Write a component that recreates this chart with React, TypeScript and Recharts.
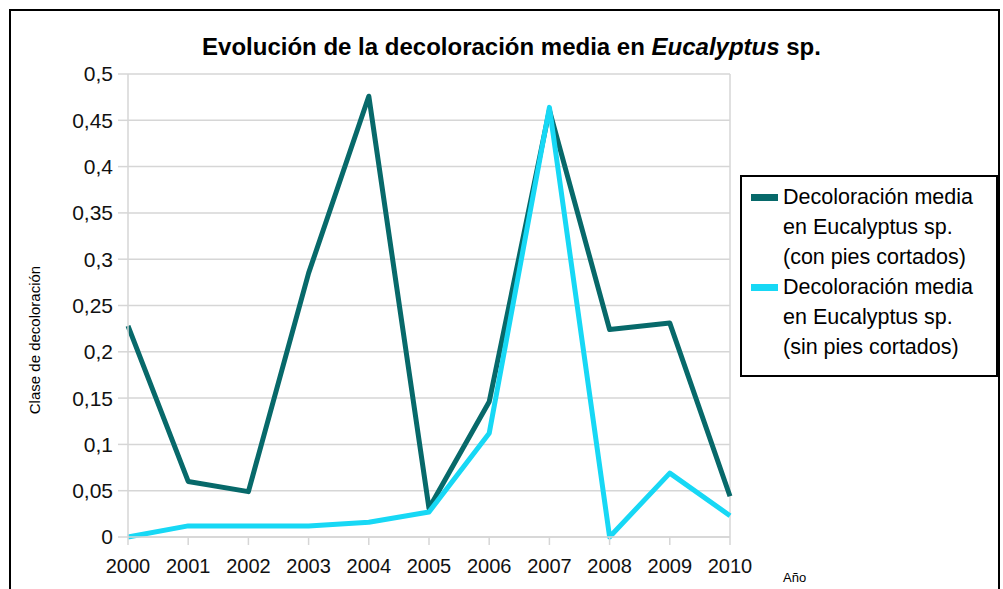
import React from 'react';
import { LineChart, Line, XAxis, YAxis, CartesianGrid, ReferenceLine, Legend } from 'recharts';

const years = ['2000', '2001', '2002', '2003', '2004', '2005', '2006', '2007', '2008', '2009', '2010'];
const conPies = [0.228, 0.06, 0.049, 0.285, 0.476, 0.031, 0.146, 0.461, 0.224, 0.231, 0.044];
const sinPies = [0.0, 0.012, 0.012, 0.012, 0.016, 0.027, 0.112, 0.464, 0.0, 0.069, 0.023];
const yTicks = [0, 0.05, 0.1, 0.15, 0.2, 0.25, 0.3, 0.35, 0.4, 0.45, 0.5];
const seriesNames = [
  ['Decoloración media', 'en Eucalyptus sp.', '(con pies cortados)'],
  ['Decoloración media', 'en Eucalyptus sp.', '(sin pies cortados)'],
];
const DARK = '#07696a';
const CYAN = '#17d8f5';
const FONT = 'Liberation Sans, Arial, sans-serif';

const data = years.map((y, i) => ({ year: y, con: conPies[i], sin: sinPies[i] }));

const LegendBox = () => (
  <div
    style={{
      border: '2px solid #000',
      background: '#fff',
      width: 258,
      height: 202,
      boxSizing: 'border-box',
      padding: '5px 0 0 8px',
      fontFamily: FONT,
      fontSize: 21.5,
      lineHeight: '30px',
      color: '#000',
    }}
  >
    {[DARK, CYAN].map((c, i) => (
      <div key={i} style={{ position: 'relative', paddingLeft: 33 }}>
        <div style={{ position: 'absolute', left: 1, top: 12, width: 27, height: 7, background: c }} />
        {seriesNames[i].map((t, j) => (
          <div key={j} style={{ whiteSpace: 'nowrap' }}>{t}</div>
        ))}
      </div>
    ))}
  </div>
);

export default function App() {
  return (
    <div style={{ position: 'absolute', left: 0, top: 0, width: 1003, height: 589, overflow: 'hidden', background: '#fff' }}>
      <div
        style={{
          position: 'absolute',
          left: 9,
          top: 9,
          width: 991,
          height: 640,
          border: '2px solid #000',
          boxSizing: 'border-box',
        }}
      />
      <div
        style={{
          position: 'absolute',
          left: 0,
          width: 1003,
          top: 33,
          textAlign: 'center',
          fontFamily: FONT,
          fontWeight: 'bold',
          fontSize: 24,
          color: '#000',
          paddingLeft: 20,
          boxSizing: 'border-box',
        }}
      >
        Evolución de la decoloración media en <i>Eucalyptus</i> sp.
      </div>
      <div
        style={{
          position: 'absolute',
          left: 34,
          top: 340,
          transform: 'translate(-50%, -50%) rotate(-90deg)',
          fontFamily: FONT,
          fontSize: 15,
          whiteSpace: 'nowrap',
          color: '#000',
        }}
      >
        Clase de decoloración
      </div>
      <div
        style={{
          position: 'absolute',
          left: 783,
          top: 570,
          fontFamily: FONT,
          fontSize: 13,
          color: '#000',
        }}
      >
        Año
      </div>
      <div style={{ position: 'absolute', left: 0, top: 0 }}>
        <LineChart
          width={1003}
          height={589}
          data={data}
          margin={{ top: 74, right: 273, bottom: 12, left: 68 }}
        >
          <CartesianGrid vertical={false} stroke="#d6d6d6" strokeWidth={1.5} />
          <XAxis
            dataKey="year"
            axisLine={{ stroke: '#d6d6d6', strokeWidth: 1.5 }}
            tickLine={{ stroke: '#d6d6d6', strokeWidth: 1.5 }}
            tickSize={8}
            tickMargin={14}
            height={40}
            interval={0}
            tick={{ fontFamily: FONT, fontSize: 20, fill: '#111' }}
          />
          <YAxis
            domain={[0, 0.5]}
            ticks={yTicks}
            width={60}
            axisLine={{ stroke: '#d6d6d6', strokeWidth: 1.5 }}
            tickLine={{ stroke: '#d6d6d6', strokeWidth: 1.5 }}
            tickSize={10}
            tickMargin={5}
            interval={0}
            tickFormatter={(v: number) => String(v).replace('.', ',')}
            tick={{ fontFamily: FONT, fontSize: 21, fill: '#111' }}
          />
          <ReferenceLine x="2010" stroke="#d6d6d6" strokeWidth={1.5} />
          <Legend
            layout="horizontal"
            align="center"
            verticalAlign="middle"
            content={() => <LegendBox />}
            wrapperStyle={{ left: 740, top: 175, width: 258, height: 202 }}
          />
          <Line
            type="linear"
            dataKey="con"
            stroke={DARK}
            strokeWidth={5}
            dot={false}
            strokeLinejoin="round"
            isAnimationActive={false}
          />
          <Line
            type="linear"
            dataKey="sin"
            stroke={CYAN}
            strokeWidth={5}
            dot={false}
            strokeLinejoin="round"
            isAnimationActive={false}
          />
        </LineChart>
      </div>
    </div>
  );
}
